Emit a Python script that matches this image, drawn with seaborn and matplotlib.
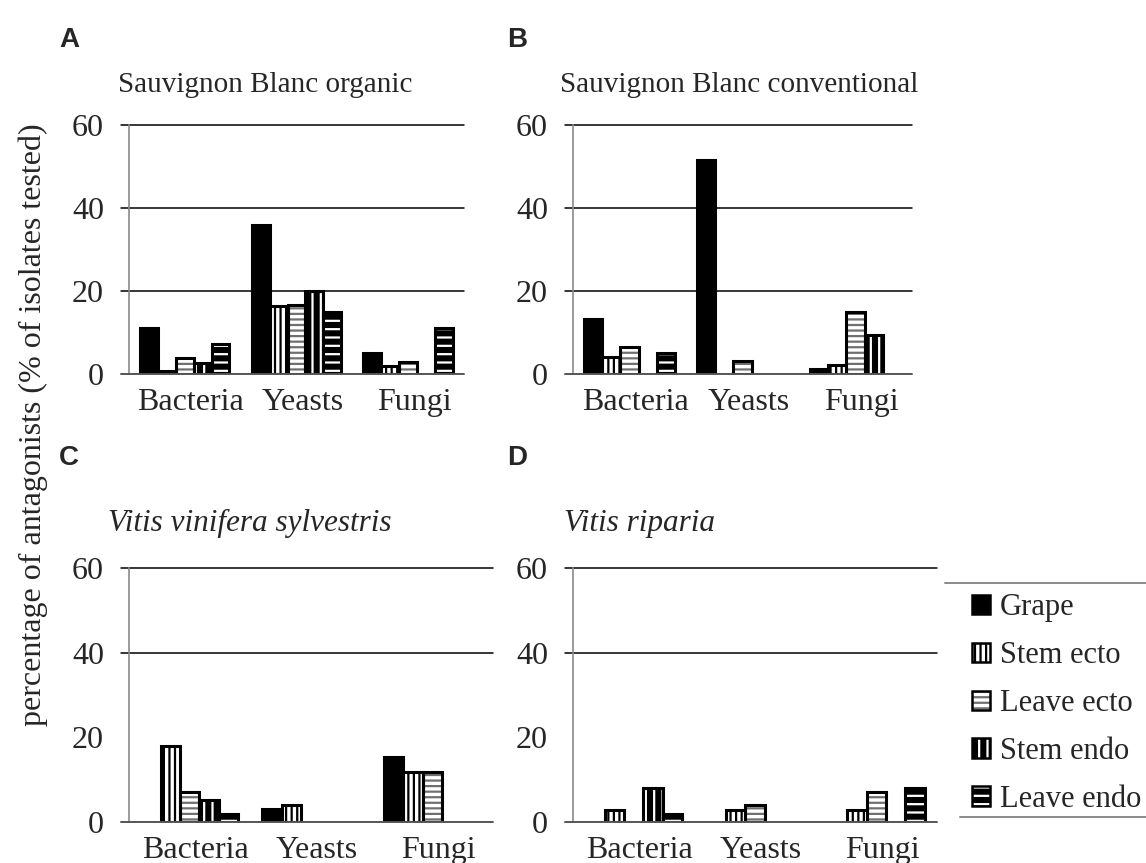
import matplotlib
matplotlib.use("Agg")
import matplotlib.pyplot as plt
import matplotlib.transforms as mtransforms
from matplotlib.patches import Patch, Rectangle
from matplotlib.lines import Line2D
import seaborn as sns
import pandas as pd

# ---------------- data ----------------
categories = ["Bacteria", "Yeasts", "Fungi"]
sources = ["Grape", "Stem ecto", "Leave ecto", "Stem endo", "Leave endo"]

# values per source, in category order (Bacteria, Yeasts, Fungi)
a_grape = [11, 36, 5]
a_stem_ecto = [0.8, 16.5, 1.9]
a_leave_ecto = [3.9, 16.6, 2.8]
a_stem_endo = [2.7, 20.1, 0]
a_leave_endo = [7.2, 14.9, 11]

b_grape = [13.2, 51.5, 1.2]
b_stem_ecto = [4.1, 0, 2.1]
b_leave_ecto = [6.5, 3.1, 15.0]
b_stem_endo = [0, 0, 9.4]
b_leave_endo = [5.1, 0, 0]

c_grape = [0, 3.0, 15.3]
c_stem_ecto = [18.0, 3.9, 11.8]
c_leave_ecto = [7.0, 0, 11.8]
c_stem_endo = [5.3, 0, 0]
c_leave_endo = [2.0, 0, 0]

d_grape = [0, 0, 0]
d_stem_ecto = [2.9, 2.9, 2.9]
d_leave_ecto = [0, 3.9, 7.0]
d_stem_endo = [8.1, 0, 0]
d_leave_endo = [2.0, 0, 8.1]

panel_letters = ["A", "B", "C", "D"]
panel_titles = ["Sauvignon Blanc organic", "Sauvignon Blanc conventional",
                "Vitis vinifera sylvestris", "Vitis riparia"]
ytick_values = [0, 20, 40, 60]
ylabel = "percentage of antagonists (% of isolates tested)"

panels = [
    [a_grape, a_stem_ecto, a_leave_ecto, a_stem_endo, a_leave_endo],
    [b_grape, b_stem_ecto, b_leave_ecto, b_stem_endo, b_leave_endo],
    [c_grape, c_stem_ecto, c_leave_ecto, c_stem_endo, c_leave_endo],
    [d_grape, d_stem_ecto, d_leave_ecto, d_stem_endo, d_leave_endo],
]

# ---------------- styles ----------------
# (face, hatch, hatch colour)
styles = {
    "Grape": ("black", "", "black"),
    "Stem ecto": ("white", "|||", "black"),
    "Leave ecto": ("white", "---", "#707070"),
    "Stem endo": ("black", "||", "white"),
    "Leave endo": ("black", "--", "white"),
}

W, H = 1146, 863
sns.set_theme(style="white")
plt.rcParams["font.family"] = ["Liberation Serif", "DejaVu Serif"]
plt.rcParams["hatch.linewidth"] = 1.6

fig = plt.figure(figsize=(W / 100, H / 100), dpi=100)


def px_rect(x0, y0, x1, y1):
    return [x0 / W, 1 - y1 / H, (x1 - x0) / W, (y1 - y0) / H]


axes_px = [
    (129, 125, 464, 374),
    (573, 125, 912, 374),
    (129, 568, 493, 822),
    (573, 568, 937, 822),
]
grid_levels = [[20, 40, 60], [20, 40, 60], [40, 60], [40, 60]]

title_pos = [(265, 85, False, 21), (739, 85, False, 21),
             (250, 523, True, 22.5), (639, 523, True, 22.5)]
letter_pos = [(69, 40), (517, 40), (69, 458), (517, 458)]

for i, vals in enumerate(panels):
    x0, y0, x1, y1 = axes_px[i]
    ax = fig.add_axes(px_rect(x0, y0, x1, y1))
    rows = []
    for s, v in zip(sources, vals):
        for c, val in zip(categories, v):
            rows.append({"category": c, "source": s, "value": val})
    df = pd.DataFrame(rows)
    sns.barplot(data=df, x="category", y="value", hue="source",
                order=categories, hue_order=sources, width=0.8, gap=0,
                palette=["black"] * 5, legend=False, ax=ax, errorbar=None)

    for s, cont in zip(sources, ax.containers):
        face, hatch, hcol = styles[s]
        for p in cont.patches:
            p.set_facecolor(face)
            p.set_hatch(hatch)
            p.set_edgecolor(hcol)
            p.set_linewidth(0)
            if p.get_height() > 0:
                ax.add_patch(Rectangle(p.get_xy(), p.get_width(), p.get_height(),
                                       fill=False, edgecolor="black", linewidth=2.2,
                                       zorder=p.get_zorder() + 0.1))

    ax.set_ylim(0, 60)
    ax.set_xlim(-0.5, 2.5)
    ax.set_yticks(ytick_values)
    ax.set_yticklabels([str(v) for v in ytick_values])
    ax.set_xlabel("")
    ax.set_ylabel("")
    ax.tick_params(axis="y", length=0, pad=18, labelsize=23)
    ax.tick_params(axis="x", length=0, pad=10, labelsize=23)
    offset = mtransforms.ScaledTranslation(6 / 100, 0, fig.dpi_scale_trans)
    for lab in ax.get_xticklabels():
        lab.set_transform(lab.get_transform() + offset)

    for sp in ["top", "right", "bottom"]:
        ax.spines[sp].set_visible(False)
    ax.spines["left"].set_color("#8a8a8a")
    ax.spines["left"].set_linewidth(1.2)
    ax.spines["left"].set_zorder(0.5)

    ext = -8 / (x1 - x0)
    for g in grid_levels[i]:
        ax.axhline(g, xmin=ext, xmax=1, color="black", linewidth=1.1,
                   clip_on=False, zorder=0.3)
    ax.axhline(0, xmin=ext, xmax=1, color="#555555", linewidth=1.4,
               clip_on=False, zorder=5)

    tx, ty, italic, fs = title_pos[i]
    fig.text(tx / W, 1 - ty / H, panel_titles[i], ha="center", va="center",
             fontsize=fs, style="italic" if italic else "normal")
    lx, ly = letter_pos[i]
    fig.text(lx / W, 1 - ly / H, panel_letters[i], ha="center", va="center",
             fontsize=20, fontweight="bold", family=["Liberation Sans", "DejaVu Sans"])

fig.text(33 / W, 1 - 425 / H, ylabel, rotation=90, ha="center", va="center",
         fontsize=23)

# legend
handles = []
for s in sources:
    face, hatch, hcol = styles[s]
    handles.append((Patch(facecolor=face, hatch=hatch, edgecolor=hcol, linewidth=0),
                    Patch(facecolor="none", edgecolor="black", linewidth=1.8)))
leg = fig.legend(handles, sources, loc="upper left",
                 bbox_to_anchor=(966 / W, 1 - 587 / H), frameon=False,
                 fontsize=22, handlelength=0.6, handleheight=0.6,
                 handletextpad=0.3, labelspacing=0.62, borderaxespad=0,
                 borderpad=0.2)
fig.add_artist(Line2D([945 / W, 1.0], [1 - 583 / H, 1 - 583 / H],
                      color="#8a8a8a", linewidth=1.4))
fig.add_artist(Line2D([960 / W, 1.0], [1 - 817 / H, 1 - 817 / H],
                      color="#8a8a8a", linewidth=1.4))

fig.savefig("out.png", dpi=100)
